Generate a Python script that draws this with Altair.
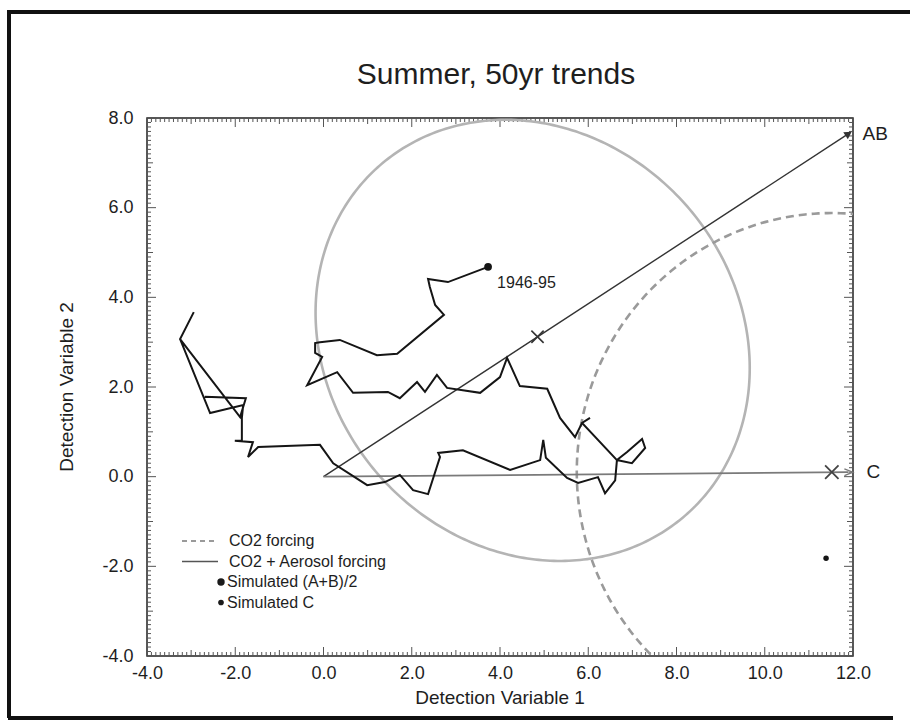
import numpy as np
import pandas as pd
import altair as alt

# ---- plot frame -------------------------------------------------------
X_MIN, X_MAX = -4.0, 12.0
Y_MIN, Y_MAX = -4.0, 8.0
W, H = 706, 538
PAD = {"left": 147, "top": 118, "right": 57, "bottom": 67}
FONT = "Liberation Sans"
INK = "#1e1e1e"

x_tick_labels = [-4, -2, 0, 2, 4, 6, 8, 10, 12]
y_tick_labels = [-4, -2, 0, 2, 4, 6, 8]

# ---- observed running 50-yr trends (detection variables 1, 2) ---------
traj_x = [-2.69, -1.76, -1.89, -3.25, -2.94, -3.25, -2.57, -1.82, -1.85, -1.85,
          -2.01, -1.60, -1.71, -1.48, -0.08, 0.22, 0.99, 1.39, 1.73, 2.03,
          2.37, 2.64, 2.60, 3.16, 4.23, 4.91, 4.98, 5.04, 5.52, 5.77,
          6.22, 6.38, 6.61, 6.65, 6.88, 7.22, 7.29, 6.99, 6.65, 5.86,
          6.04, 5.86, 5.70, 5.36, 5.07, 4.45, 4.16, 4.00, 3.55, 2.80,
          2.57, 2.30, 2.12, 1.73, 1.46, 0.67, 0.31, -0.37, -0.03, -0.19,
          -0.19, -0.08, 0.37, 1.21, 1.67, 2.73, 2.53, 2.41, 2.37, 2.82,
          3.73]
traj_y = [1.78, 1.75, 1.33, 3.07, 3.67, 3.07, 1.42, 1.60, 1.31, 0.80,
          0.80, 0.77, 0.44, 0.66, 0.71, 0.30, -0.19, -0.12, 0.04, -0.30,
          -0.39, 0.44, 0.53, 0.59, 0.15, 0.37, 0.82, 0.42, -0.03, -0.14,
          -0.01, -0.37, -0.08, 0.37, 0.55, 0.84, 0.64, 0.30, 0.37, 1.20,
          1.31, 1.20, 0.88, 1.31, 1.96, 2.02, 2.65, 2.22, 1.87, 1.98,
          2.27, 1.89, 2.11, 1.75, 1.89, 1.87, 2.33, 2.04, 2.67, 2.76,
          2.98, 3.00, 3.05, 2.71, 2.74, 3.61, 3.83, 4.23, 4.41, 4.34,
          4.68]
latest_label = "1946-95"

# ---- signal directions and simulated responses ------------------------
origin = (0.0, 0.0)
ab_tip, ab_name = (11.9, 7.65), "AB"
c_tip, c_name = (11.9, 0.10), "C"
ab_expected = (4.85, 3.12)      # X on the AB direction
c_expected = (11.52, 0.10)      # X on the C direction
sim_c_point = (11.39, -1.82)

# uncertainty regions: centre, semi-axes and tilt (degrees)
ab_region = dict(center=(4.74, 3.04), a=5.22, b=4.60, tilt=-45.0)
c_region = dict(center=c_expected, a=5.78, b=5.78, tilt=0.0)

legend_labels = ["CO2 forcing", "CO2 + Aerosol forcing",
                 "Simulated (A+B)/2", "Simulated C"]

title_text = "Summer, 50yr trends"
x_title = "Detection Variable 1"
y_title = "Detection Variable 2"

# ---- scales and shared axes -------------------------------------------
xs = alt.Scale(domain=[X_MIN, X_MAX], nice=False, zero=False)
ys = alt.Scale(domain=[Y_MIN, Y_MAX], nice=False, zero=False)
px_x = W / (X_MAX - X_MIN)
px_y = H / (Y_MAX - Y_MIN)

label_expr = "(datum.value < 0 ? '-' : '') + format(abs(datum.value), '.1f')"
x_axis = alt.Axis(values=x_tick_labels, labelExpr=label_expr, labelFontSize=18,
                  labelFont=FONT, labelColor=INK, ticks=False, domain=False,
                  grid=False, title=None, labelPadding=8, labelOverlap=False,
                  labelFlush=False)
y_axis = alt.Axis(values=y_tick_labels, labelExpr=label_expr, labelFontSize=18,
                  labelFont=FONT, labelColor=INK, ticks=False, domain=False,
                  grid=False, title=None, labelPadding=14, labelOverlap=False,
                  labelFlush=False)


def X(field):
    return alt.X(field, type="quantitative", scale=xs, axis=x_axis)


def Y(field):
    return alt.Y(field, type="quantitative", scale=ys, axis=y_axis)


def outline(center, a, b, tilt, n=361):
    t = np.linspace(0.0, 2.0 * np.pi, n)
    phi = np.radians(tilt)
    u, v = a * np.cos(t), b * np.sin(t)
    return pd.DataFrame({"x": center[0] + u * np.cos(phi) - v * np.sin(phi),
                         "y": center[1] + u * np.sin(phi) + v * np.cos(phi),
                         "k": np.arange(n)})


layers = []

# ---- inward ticks on all four sides -----------------------------------
def tick_values(lo, hi, step):
    n = int(round((hi - lo) / step))
    return [round(lo + i * step, 2) for i in range(n + 1)]


def tick_classes(lo, hi):
    minor = [v for v in tick_values(lo, hi, 0.1)
             if abs(v - round(v)) > 1e-6]
    unit = [v for v in tick_values(lo, hi, 1.0) if int(round(v)) % 2 != 0]
    major = tick_values(lo, hi, 2.0)
    return [(minor, 4), (unit, 6), (major, 9)]


for vals, ln in tick_classes(X_MIN, X_MAX):
    df = pd.DataFrame({"v": vals})
    for y0, y1 in [(H, H - ln), (0, ln)]:
        layers.append(alt.Chart(df).mark_rule(color="#555", strokeWidth=1)
                      .encode(x=X("v"), y=alt.value(y0), y2=alt.value(y1)))
for vals, ln in tick_classes(Y_MIN, Y_MAX):
    df = pd.DataFrame({"v": vals})
    for x0, x1 in [(0, ln), (W, W - ln)]:
        layers.append(alt.Chart(df).mark_rule(color="#555", strokeWidth=1)
                      .encode(y=Y("v"), x=alt.value(x0), x2=alt.value(x1)))

# ---- uncertainty regions -------------------------------------------------
layers.append(alt.Chart(outline(**ab_region))
              .mark_line(color="#b4b4b4", strokeWidth=2.6, clip=True)
              .encode(x=X("x"), y=Y("y"), order="k:Q"))
layers.append(alt.Chart(outline(**c_region))
              .mark_line(color="#9a9a9a", strokeWidth=2.6, strokeDash=[8, 5],
                         clip=True)
              .encode(x=X("x"), y=Y("y"), order="k:Q"))

# ---- signal arrows -----------------------------------------------------
def arrow(tip, color, width, head_shape, filled):
    seg = pd.DataFrame({"x": [origin[0], tip[0]], "y": [origin[1], tip[1]],
                        "k": [0, 1]})
    ang = np.degrees(np.arctan2((tip[1] - origin[1]) * px_y,
                                (tip[0] - origin[0]) * px_x))
    line = (alt.Chart(seg).mark_line(color=color, strokeWidth=width)
            .encode(x=X("x"), y=Y("y"), order="k:Q"))
    head = (alt.Chart(pd.DataFrame({"x": [tip[0]], "y": [tip[1]]}))
            .mark_point(shape=head_shape, filled=filled, color=color,
                        strokeWidth=1.4, size=70, opacity=1,
                        angle=float((360 - ang) % 360))
            .encode(x=X("x"), y=Y("y")))
    return [line, head]


layers += arrow(ab_tip, "#333333", 1.4, "triangle-right", True)
layers += arrow(c_tip, "#7a7a7a", 1.8, "M-1,-0.8L1,0L-1,0.8", False)

cross = "M-1,-1L1,1M-1,1L1,-1"
layers.append(alt.Chart(pd.DataFrame({"x": [ab_expected[0]], "y": [ab_expected[1]]}))
              .mark_point(shape=cross, filled=False, color="#333", strokeWidth=1.6,
                          size=150, opacity=1)
              .encode(x=X("x"), y=Y("y")))
layers.append(alt.Chart(pd.DataFrame({"x": [c_expected[0]], "y": [c_expected[1]]}))
              .mark_point(shape=cross, filled=False, color="#444", strokeWidth=1.8,
                          size=180, opacity=1)
              .encode(x=X("x"), y=Y("y")))

for tip, name, dx in [(ab_tip, ab_name, 14), (c_tip, c_name, 18)]:
    layers.append(alt.Chart(pd.DataFrame({"x": [tip[0]], "y": [tip[1]], "t": [name]}))
                  .mark_text(align="left", baseline="middle", dx=dx, fontSize=19,
                             font=FONT, color=INK)
                  .encode(x=X("x"), y=Y("y"), text="t:N"))

# ---- observed trajectory ----------------------------------------------
traj = pd.DataFrame({"x": traj_x, "y": traj_y, "k": range(len(traj_x))})
layers.append(alt.Chart(traj).mark_line(color="#151515", strokeWidth=2.0,
                                        strokeJoin="miter")
              .encode(x=X("x"), y=Y("y"), order="k:Q"))
last = pd.DataFrame({"x": [traj_x[-1]], "y": [traj_y[-1]], "t": [latest_label]})
layers.append(alt.Chart(last).mark_point(filled=True, color="#151515", size=60,
                                         opacity=1)
              .encode(x=X("x"), y=Y("y")))
layers.append(alt.Chart(last).mark_text(align="left", baseline="middle", dx=9,
                                        dy=16, fontSize=16, font=FONT, color=INK)
              .encode(x=X("x"), y=Y("y"), text="t:N"))

layers.append(alt.Chart(pd.DataFrame({"x": [sim_c_point[0]], "y": [sim_c_point[1]]}))
              .mark_point(filled=True, color="#151515", size=30, opacity=1)
              .encode(x=X("x"), y=Y("y")))

# ---- legend (drawn in the lower-left corner of the frame) -------------
LEG_TOP, LEG_STEP = 423, 20.5
rows = [LEG_TOP + i * LEG_STEP for i in range(len(legend_labels))]
layers.append(alt.Chart(pd.DataFrame({"a": [0]}))
              .mark_rule(color="#9a9a9a", strokeWidth=2, strokeDash=[5, 4])
              .encode(x=alt.value(35), x2=alt.value(71), y=alt.value(rows[0])))
layers.append(alt.Chart(pd.DataFrame({"a": [0]}))
              .mark_rule(color="#555", strokeWidth=1.4)
              .encode(x=alt.value(35), x2=alt.value(71), y=alt.value(rows[1])))
for i, sz in [(2, 55), (3, 32)]:
    layers.append(alt.Chart(pd.DataFrame({"a": [0]}))
                  .mark_point(filled=True, color="#1a1a1a", size=sz, opacity=1)
                  .encode(x=alt.value(74), y=alt.value(rows[i])))
for i, lab in enumerate(legend_labels):
    layers.append(alt.Chart(pd.DataFrame({"t": [lab]}))
                  .mark_text(align="left", baseline="middle", fontSize=16,
                             font=FONT, color=INK)
                  .encode(x=alt.value(82 if i < 2 else 80), y=alt.value(rows[i]),
                          text="t:N"))

# ---- titles --------------------------------------------------------------
def free_text(txt, x, y, size, angle=0):
    return (alt.Chart(pd.DataFrame({"t": [txt]}))
            .mark_text(align="center", baseline="middle", fontSize=size,
                       font=FONT, color=INK, angle=angle)
            .encode(x=alt.value(x), y=alt.value(y), text="t:N"))


layers.append(free_text(title_text, W / 2 - 4, -43, 30))
layers.append(free_text(x_title, W / 2, 580, 19))
layers.append(free_text(y_title, -80, H / 2, 19, angle=270))

# ---- outer figure border ---------------------------------------------------
for enc in [dict(x=alt.value(-139), x2=alt.value(W + PAD["right"]), y=alt.value(-106)),
            dict(x=alt.value(-138), y=alt.value(-108), y2=alt.value(H + 62)),
            dict(x=alt.value(-139), x2=alt.value(W + 40), y=alt.value(H + 62))]:
    layers.append(alt.Chart(pd.DataFrame({"a": [0]}))
                  .mark_rule(color="#111", strokeWidth=4)
                  .encode(**enc))

chart = (alt.layer(*layers)
         .properties(width=W, height=H, padding=PAD,
                     autosize=alt.AutoSizeParams(type="none"),
                     background="white")
         .configure_view(stroke="#222", strokeWidth=1.5))

chart.save("out.html", embed_options={"renderer": "svg", "actions": False})
